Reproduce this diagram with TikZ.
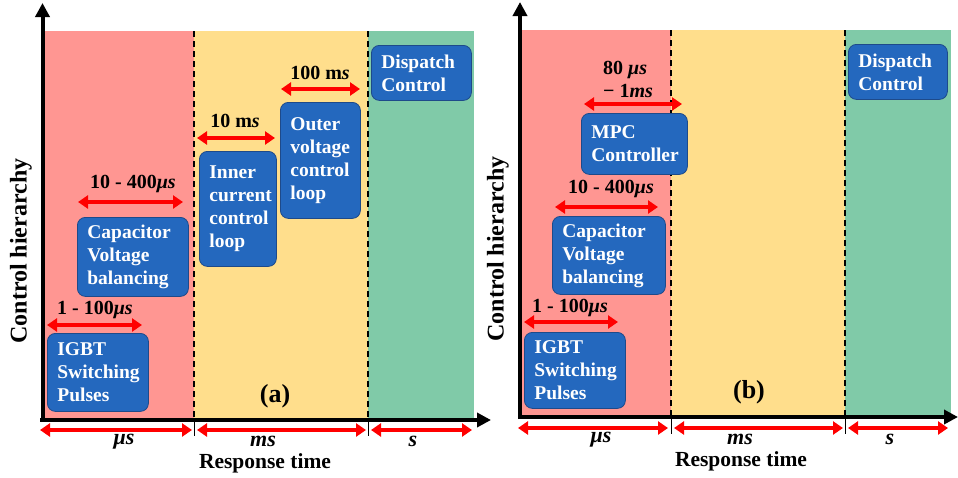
\documentclass[tikz,border=0pt]{standalone}
\usepackage{fontspec}
\setmainfont{Liberation Serif}
\usetikzlibrary{arrows.meta,positioning}

\definecolor{usred}{RGB}{255,150,146}
\definecolor{msyellow}{RGB}{255,222,140}
\definecolor{sgreen}{RGB}{128,202,168}
\definecolor{boxblue}{RGB}{36,104,190}
\definecolor{boxline}{RGB}{30,74,138}

\begin{document}
\begin{tikzpicture}[x=1pt,y=-1pt,
   ctrlbox/.style={draw=boxline,thick,fill=boxblue,rounded corners=8pt,text=white,
     align=left,anchor=north west,inner xsep=10pt,inner ysep=0pt,
     font=\fontsize{19.5}{23}\selectfont\bfseries},
   tarrow/.style={red,line width=3.5pt,{Triangle[length=10pt,width=13pt]}-{Triangle[length=10pt,width=13pt]}},
   axarrow/.style={black,line width=4pt,-{Triangle[length=14pt,width=14pt]}},
   divline/.style={black,line width=1.4pt,dash pattern=on 6pt off 4pt},
   tlbl/.style={font=\fontsize{20}{23}\selectfont\bfseries,inner sep=0pt},
   scalelbl/.style={font=\fontsize{22}{24}\selectfont\bfseries\itshape,inner sep=0pt},
   axlbl/.style={font=\fontsize{21.5}{24}\selectfont\bfseries,inner sep=0pt}]

 \useasboundingbox (0,0) rectangle (958,477);

 %panel (a) background bands
 \fill[usred]    (44,31)  rectangle (194,418);
 \fill[msyellow] (194,31) rectangle (368,418);
 \fill[sgreen]   (368,31) rectangle (474,418);
 \draw[divline] (194,31) -- (194,420);
 \draw[divline] (368,31) -- (368,420);

 %panel (b) background bands
 \fill[usred]    (522,30) rectangle (671,415);
 \fill[msyellow] (671,30) rectangle (845,415);
 \fill[sgreen]   (845,30) rectangle (951,415);
 \draw[divline] (671,30) -- (671,417);
 \draw[divline] (845,30) -- (845,417);

 %axes
 \coordinate (ya_0) at (42.5,422); \coordinate (ya_1) at (42.5,3);
 \coordinate (xa_0) at (40,420);   \coordinate (xa_1) at (491,420);
 \coordinate (yb_0) at (520,419);  \coordinate (yb_1) at (520,2);
 \coordinate (xb_0) at (518,417);  \coordinate (xb_1) at (958,417);
 \draw[axarrow] (ya_0) -- (ya_1);
 \draw[axarrow] (xa_0) -- (xa_1);
 \draw[axarrow] (yb_0) -- (yb_1);
 \draw[axarrow] (xb_0) -- (xb_1);

 \node[axlbl,rotate=90,font=\fontsize{24}{26}\selectfont\bfseries] (hier_a) at (21,251) {Control hierarchy};
 \node[axlbl,rotate=90,font=\fontsize{24}{26}\selectfont\bfseries] (hier_b) at (498,249) {Control hierarchy};
 \node[axlbl] (resp_a) at (265,463) {Response time};
 \node[axlbl] (resp_b) at (741,461) {Response time};
 \node[font=\fontsize{26}{28}\selectfont\bfseries,inner sep=0pt] (tag_a) at (275,396) {(a)};
 \node[font=\fontsize{26}{28}\selectfont\bfseries,inner sep=0pt] (tag_b) at (749,392) {(b)};

 %time scale arrows below the axis
 \draw[black,thick] (194,420) -- (194,436);
 \draw[black,thick] (368,420) -- (368,436);
 \draw[black,thick] (671,417) -- (671,434);
 \draw[black,thick] (845,417) -- (845,434);
 \coordinate (us_a0) at (40,430);  \coordinate (us_a1) at (192,430);
 \coordinate (ms_a0) at (197,430); \coordinate (ms_a1) at (366,430);
 \coordinate (s_a0)  at (371,430); \coordinate (s_a1)  at (472,430);
 \draw[tarrow] (us_a0) -- (us_a1);
 \draw[tarrow] (ms_a0) -- (ms_a1);
 \draw[tarrow] (s_a0)  -- (s_a1);
 \node[scalelbl] (us_a) at (124,442) {μs};
 \node[scalelbl] (ms_a) at (263,441) {ms};
 \node[scalelbl] (s_a)  at (413,441) {s};

 \coordinate (us_b0) at (518,428); \coordinate (us_b1) at (668,428);
 \coordinate (ms_b0) at (674,428); \coordinate (ms_b1) at (843,428);
 \coordinate (s_b0)  at (848,428); \coordinate (s_b1)  at (948,428);
 \draw[tarrow] (us_b0) -- (us_b1);
 \draw[tarrow] (ms_b0) -- (ms_b1);
 \draw[tarrow] (s_b0)  -- (s_b1);
 \node[scalelbl] (us_b) at (601,440) {μs};
 \node[scalelbl] (ms_b) at (740,439) {ms};
 \node[scalelbl] (s_b)  at (890,439) {s};

 %controllers of panel (a)
 \node[ctrlbox,text width=80pt,minimum height=55pt]  (dispatch_a) at (371,45)  {Dispatch\\Control};
 \node[ctrlbox,text width=60pt,minimum height=116pt] (outer_a)    at (280,102) {Outer\\voltage\\control\\loop};
 \node[ctrlbox,text width=57pt,minimum height=115pt] (inner_a)    at (199,151) {Inner\\current\\control\\loop};
 \node[ctrlbox,text width=91pt,minimum height=79pt]  (cap_a)      at (77,217)  {Capacitor\\Voltage\\balancing};
 \node[ctrlbox,text width=81pt,minimum height=78pt]  (igbt_a)     at (47,333)  {IGBT\\Switching\\Pulses};

 \coordinate (outer_a0) at (281,89); \coordinate (outer_a1) at (360,89);
 \draw[tarrow] (outer_a0) -- (outer_a1);
 \node[tlbl] (outer_lbl_a) at (320,73) {100 m\textit{s}};
 \coordinate (inner_a0) at (197,138); \coordinate (inner_a1) at (275,138);
 \draw[tarrow] (inner_a0) -- (inner_a1);
 \node[tlbl] (inner_lbl_a) at (235,121) {10 m\textit{s}};
 \coordinate (cap_a0) at (78,202); \coordinate (cap_a1) at (183,202);
 \draw[tarrow] (cap_a0) -- (cap_a1);
 \node[tlbl] (cap_lbl_a) at (133,184) {10 - 400\textit{μs}};
 \coordinate (igbt_a0) at (47,325); \coordinate (igbt_a1) at (142,325);
 \draw[tarrow] (igbt_a0) -- (igbt_a1);
 \node[tlbl] (igbt_lbl_a) at (95,310) {1 - 100\textit{μs}};

 %controllers of panel (b)
 \node[ctrlbox,text width=79pt,minimum height=55pt] (dispatch_b) at (848,44)  {Dispatch\\Control};
 \node[ctrlbox,text width=86pt,minimum height=61pt] (mpc_b)      at (581,113) {MPC\\Controller};
 \node[ctrlbox,text width=93pt,minimum height=78pt] (cap_b)      at (552,216) {Capacitor\\Voltage\\balancing};
 \node[ctrlbox,text width=81pt,minimum height=76pt] (igbt_b)     at (524,332) {IGBT\\Switching\\Pulses};

 \coordinate (mpc_b0) at (584,104); \coordinate (mpc_b1) at (682,104);
 \draw[tarrow] (mpc_b0) -- (mpc_b1);
 \node[tlbl,align=left] (mpc_lbl_b) at (628,79) {80 \textit{μs}\\ − 1\textit{ms}};
 \coordinate (cap_b0) at (555,207); \coordinate (cap_b1) at (658,207);
 \draw[tarrow] (cap_b0) -- (cap_b1);
 \node[tlbl] (cap_lbl_b) at (611,189) {10 - 400\textit{μs}};
 \coordinate (igbt_b0) at (524,322); \coordinate (igbt_b1) at (618,322);
 \draw[tarrow] (igbt_b0) -- (igbt_b1);
 \node[tlbl] (igbt_lbl_b) at (570,308) {1 - 100\textit{μs}};

\end{tikzpicture}
\end{document}
